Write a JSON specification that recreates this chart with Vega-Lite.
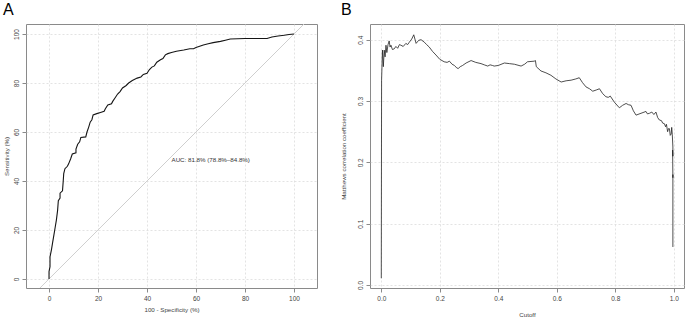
{
  "$schema": "https://vega.github.io/schema/vega-lite/v6.json",
  "background": "white",
  "padding": {"left": 2, "top": 1, "right": 2, "bottom": 0},
  "spacing": 53,
  "bounds": "flush",
  "config": {
    "view": {"stroke": "#8a8a8a", "strokeWidth": 1},
    "font": "Liberation Sans",
    "axis": {
      "domain": false,
      "grid": true,
      "gridColor": "#dcdcdc",
      "gridDash": [2, 2],
      "gridWidth": 0.8,
      "ticks": true,
      "tickSize": 4,
      "tickColor": "#8a8a8a",
      "labelFont": "Liberation Sans",
      "labelFontSize": 6.5,
      "labelColor": "#444",
      "titleFont": "Liberation Sans",
      "titleFontSize": 6.2,
      "titleFontWeight": "normal",
      "titleColor": "#444"
    },
    "axisLeft": {"labelAngle": -90, "labelAlign": "center", "labelBaseline": "bottom", "labelPadding": 3},
    "axisBottom": {"labelPadding": 3},
    "title": {"font": "Liberation Sans", "fontSize": 16, "fontWeight": "normal", "color": "#000", "anchor": "start", "frame": "group"}
  },
  "datasets": {
    "roc": [
      {"i":0,"fpr":0,"sens":0},{"i":1,"fpr":0,"sens":3},{"i":2,"fpr":0.4,"sens":5},{"i":3,"fpr":0.4,"sens":9},
      {"i":4,"fpr":1,"sens":12},{"i":5,"fpr":1.5,"sens":15},{"i":6,"fpr":2,"sens":18},{"i":7,"fpr":2.5,"sens":21},
      {"i":8,"fpr":3,"sens":24},{"i":9,"fpr":3.5,"sens":28},{"i":10,"fpr":3.8,"sens":32},{"i":11,"fpr":4.5,"sens":33},
      {"i":12,"fpr":4.5,"sens":35},{"i":13,"fpr":5.5,"sens":36},{"i":14,"fpr":5.8,"sens":40},{"i":15,"fpr":6,"sens":43},
      {"i":16,"fpr":6.5,"sens":45},{"i":17,"fpr":7.5,"sens":46},{"i":18,"fpr":8,"sens":47},{"i":19,"fpr":8.8,"sens":49},
      {"i":20,"fpr":9.5,"sens":51},{"i":21,"fpr":11,"sens":51.5},{"i":22,"fpr":11,"sens":53},{"i":23,"fpr":11.7,"sens":55},
      {"i":24,"fpr":12.5,"sens":56},{"i":25,"fpr":13,"sens":57.8},{"i":26,"fpr":15,"sens":58},{"i":27,"fpr":15.5,"sens":60},
      {"i":28,"fpr":16.2,"sens":62},{"i":29,"fpr":16.8,"sens":64},{"i":30,"fpr":17.5,"sens":65},{"i":31,"fpr":18,"sens":67},
      {"i":32,"fpr":19.5,"sens":67.5},{"i":33,"fpr":21,"sens":68},{"i":34,"fpr":22.5,"sens":68.5},{"i":35,"fpr":23,"sens":69.5},
      {"i":36,"fpr":24,"sens":71},{"i":37,"fpr":25.5,"sens":71.5},{"i":38,"fpr":26,"sens":72.5},{"i":39,"fpr":27,"sens":74},
      {"i":40,"fpr":28,"sens":75.5},{"i":41,"fpr":29,"sens":76.5},{"i":42,"fpr":30,"sens":78},{"i":43,"fpr":31.5,"sens":79},
      {"i":44,"fpr":32.5,"sens":80},{"i":45,"fpr":34,"sens":81},{"i":46,"fpr":35,"sens":81.5},{"i":47,"fpr":36,"sens":82},
      {"i":48,"fpr":37.5,"sens":82.5},{"i":49,"fpr":38.5,"sens":83.5},{"i":50,"fpr":40,"sens":84},{"i":51,"fpr":41,"sens":85.5},
      {"i":52,"fpr":42,"sens":86.5},{"i":53,"fpr":43,"sens":87},{"i":54,"fpr":44,"sens":88.5},{"i":55,"fpr":45.5,"sens":89.5},
      {"i":56,"fpr":46.5,"sens":90},{"i":57,"fpr":47.5,"sens":91.5},{"i":58,"fpr":48.5,"sens":92},{"i":59,"fpr":50,"sens":92.5},
      {"i":60,"fpr":52,"sens":93},{"i":61,"fpr":55,"sens":93.5},{"i":62,"fpr":57.5,"sens":94},{"i":63,"fpr":59,"sens":94},
      {"i":64,"fpr":60,"sens":94.5},{"i":65,"fpr":61.5,"sens":95},{"i":66,"fpr":63,"sens":95.5},{"i":67,"fpr":65,"sens":96},
      {"i":68,"fpr":67,"sens":96.5},{"i":69,"fpr":70,"sens":97},{"i":70,"fpr":72,"sens":97.5},{"i":71,"fpr":74,"sens":98},
      {"i":72,"fpr":80,"sens":98.2},{"i":73,"fpr":89,"sens":98.2},{"i":74,"fpr":91,"sens":98.8},{"i":75,"fpr":93.5,"sens":99.2},
      {"i":76,"fpr":96,"sens":99.5},{"i":77,"fpr":98,"sens":99.8},{"i":78,"fpr":100,"sens":100}
    ],
    "diag": [{"fpr": -10, "sens": -10}, {"fpr": 110, "sens": 110}],
    "auc": [{"fpr": 50, "sens": 48.7, "label": "AUC: 81.8% (78.8%–84.8%)"}],
    "mcc": [
      {"i":0,"cutoff":0,"mcc":0.011},{"i":1,"cutoff":0.001,"mcc":0.334},{"i":2,"cutoff":0.004,"mcc":0.383},{"i":3,"cutoff":0.007,"mcc":0.356},
      {"i":4,"cutoff":0.010,"mcc":0.383},{"i":5,"cutoff":0.013,"mcc":0.372},{"i":6,"cutoff":0.016,"mcc":0.391},{"i":7,"cutoff":0.019,"mcc":0.379},
      {"i":8,"cutoff":0.023,"mcc":0.392},{"i":9,"cutoff":0.027,"mcc":0.398},{"i":10,"cutoff":0.030,"mcc":0.388},{"i":11,"cutoff":0.033,"mcc":0.391},
      {"i":12,"cutoff":0.038,"mcc":0.384},{"i":13,"cutoff":0.044,"mcc":0.385},{"i":14,"cutoff":0.05,"mcc":0.389},{"i":15,"cutoff":0.056,"mcc":0.386},
      {"i":16,"cutoff":0.062,"mcc":0.392},{"i":17,"cutoff":0.067,"mcc":0.391},{"i":18,"cutoff":0.075,"mcc":0.389},{"i":19,"cutoff":0.084,"mcc":0.394},
      {"i":20,"cutoff":0.09,"mcc":0.392},{"i":21,"cutoff":0.096,"mcc":0.396},{"i":22,"cutoff":0.104,"mcc":0.401},{"i":23,"cutoff":0.111,"mcc":0.408},
      {"i":24,"cutoff":0.119,"mcc":0.394},{"i":25,"cutoff":0.128,"mcc":0.399},{"i":26,"cutoff":0.136,"mcc":0.400},{"i":27,"cutoff":0.147,"mcc":0.396},
      {"i":28,"cutoff":0.155,"mcc":0.392},{"i":29,"cutoff":0.164,"mcc":0.388},{"i":30,"cutoff":0.175,"mcc":0.381},{"i":31,"cutoff":0.187,"mcc":0.375},
      {"i":32,"cutoff":0.2,"mcc":0.368},{"i":33,"cutoff":0.215,"mcc":0.364},{"i":34,"cutoff":0.225,"mcc":0.363},{"i":35,"cutoff":0.233,"mcc":0.365},
      {"i":36,"cutoff":0.242,"mcc":0.360},{"i":37,"cutoff":0.25,"mcc":0.358},{"i":38,"cutoff":0.258,"mcc":0.354},{"i":39,"cutoff":0.263,"mcc":0.353},
      {"i":40,"cutoff":0.27,"mcc":0.356},{"i":41,"cutoff":0.278,"mcc":0.358},{"i":42,"cutoff":0.29,"mcc":0.362},{"i":43,"cutoff":0.307,"mcc":0.366},
      {"i":44,"cutoff":0.323,"mcc":0.363},{"i":45,"cutoff":0.341,"mcc":0.361},{"i":46,"cutoff":0.352,"mcc":0.359},{"i":47,"cutoff":0.364,"mcc":0.357},
      {"i":48,"cutoff":0.372,"mcc":0.359},{"i":49,"cutoff":0.38,"mcc":0.358},{"i":50,"cutoff":0.386,"mcc":0.357},{"i":51,"cutoff":0.40,"mcc":0.358},
      {"i":52,"cutoff":0.421,"mcc":0.362},{"i":53,"cutoff":0.438,"mcc":0.361},{"i":54,"cutoff":0.455,"mcc":0.360},{"i":55,"cutoff":0.478,"mcc":0.357},
      {"i":56,"cutoff":0.49,"mcc":0.360},{"i":57,"cutoff":0.5,"mcc":0.364},{"i":58,"cutoff":0.523,"mcc":0.365},{"i":59,"cutoff":0.527,"mcc":0.366},
      {"i":60,"cutoff":0.530,"mcc":0.356},{"i":61,"cutoff":0.546,"mcc":0.349},{"i":62,"cutoff":0.563,"mcc":0.346},{"i":63,"cutoff":0.580,"mcc":0.342},
      {"i":64,"cutoff":0.597,"mcc":0.336},{"i":65,"cutoff":0.615,"mcc":0.331},{"i":66,"cutoff":0.632,"mcc":0.333},{"i":67,"cutoff":0.649,"mcc":0.334},
      {"i":68,"cutoff":0.665,"mcc":0.336},{"i":69,"cutoff":0.677,"mcc":0.338},{"i":70,"cutoff":0.688,"mcc":0.330},{"i":71,"cutoff":0.700,"mcc":0.323},
      {"i":72,"cutoff":0.712,"mcc":0.320},{"i":73,"cutoff":0.723,"mcc":0.316},{"i":74,"cutoff":0.735,"mcc":0.318},{"i":75,"cutoff":0.746,"mcc":0.320},
      {"i":76,"cutoff":0.757,"mcc":0.312},{"i":77,"cutoff":0.768,"mcc":0.307},{"i":78,"cutoff":0.776,"mcc":0.306},{"i":79,"cutoff":0.783,"mcc":0.308},
      {"i":80,"cutoff":0.797,"mcc":0.298},{"i":81,"cutoff":0.814,"mcc":0.289},{"i":82,"cutoff":0.825,"mcc":0.293},{"i":83,"cutoff":0.837,"mcc":0.296},
      {"i":84,"cutoff":0.845,"mcc":0.294},{"i":85,"cutoff":0.854,"mcc":0.293},{"i":86,"cutoff":0.862,"mcc":0.284},{"i":87,"cutoff":0.871,"mcc":0.277},
      {"i":88,"cutoff":0.888,"mcc":0.280},{"i":89,"cutoff":0.905,"mcc":0.283},{"i":90,"cutoff":0.910,"mcc":0.279},{"i":91,"cutoff":0.917,"mcc":0.280},
      {"i":92,"cutoff":0.925,"mcc":0.282},{"i":93,"cutoff":0.932,"mcc":0.278},{"i":94,"cutoff":0.939,"mcc":0.282},{"i":95,"cutoff":0.945,"mcc":0.273},
      {"i":96,"cutoff":0.951,"mcc":0.269},{"i":97,"cutoff":0.958,"mcc":0.268},{"i":98,"cutoff":0.962,"mcc":0.264},{"i":99,"cutoff":0.968,"mcc":0.263},
      {"i":100,"cutoff":0.972,"mcc":0.258},{"i":101,"cutoff":0.975,"mcc":0.262},{"i":102,"cutoff":0.979,"mcc":0.250},{"i":103,"cutoff":0.982,"mcc":0.255},
      {"i":104,"cutoff":0.985,"mcc":0.255},{"i":105,"cutoff":0.988,"mcc":0.244},{"i":106,"cutoff":0.991,"mcc":0.246},{"i":107,"cutoff":0.993,"mcc":0.257},
      {"i":108,"cutoff":0.995,"mcc":0.245},{"i":109,"cutoff":0.997,"mcc":0.225},{"i":110,"cutoff":0.997,"mcc":0.210},{"i":111,"cutoff":0.996,"mcc":0.220},
      {"i":112,"cutoff":0.997,"mcc":0.175},{"i":113,"cutoff":0.997,"mcc":0.180},{"i":114,"cutoff":0.997,"mcc":0.062}
    ]
  },
  "hconcat": [
    {
      "width": 291,
      "height": 264,
      "title": {"text": "A", "dx": -23, "offset": 6},
      "layer": [
        {
          "data": {"name": "diag"},
          "mark": {"type": "line", "color": "#cfcfcf", "strokeWidth": 1, "clip": true},
          "encoding": {
            "x": {"field": "fpr", "type": "quantitative", "scale": {"domain": [-9.4, 109.4], "nice": false, "zero": false},
              "axis": {"values": [0, 20, 40, 60, 80, 100], "title": "100 - Specificity (%)", "titlePadding": 5}},
            "y": {"field": "sens", "type": "quantitative", "scale": {"domain": [-3.7, 104.1], "nice": false, "zero": false},
              "axis": {"values": [0, 20, 40, 60, 80, 100], "title": "Sensitivity (%)", "titlePadding": 4}}
          }
        },
        {
          "data": {"name": "roc"},
          "mark": {"type": "line", "color": "#151515", "strokeWidth": 1.1},
          "encoding": {
            "x": {"field": "fpr", "type": "quantitative"},
            "y": {"field": "sens", "type": "quantitative"},
            "order": {"field": "i", "type": "quantitative"}
          }
        },
        {
          "data": {"name": "auc"},
          "mark": {"type": "text", "align": "left", "baseline": "middle", "fontSize": 6.2, "color": "#333", "font": "Liberation Sans"},
          "encoding": {
            "x": {"field": "fpr", "type": "quantitative"},
            "y": {"field": "sens", "type": "quantitative"},
            "text": {"field": "label"}
          }
        }
      ]
    },
    {
      "width": 314,
      "height": 264,
      "title": {"text": "B", "dx": -29, "offset": 6},
      "data": {"name": "mcc"},
      "mark": {"type": "line", "color": "#222", "strokeWidth": 0.8},
      "encoding": {
        "x": {"field": "cutoff", "type": "quantitative", "scale": {"domain": [-0.0386, 1.035], "nice": false, "zero": false},
          "axis": {"values": [0, 0.2, 0.4, 0.6, 0.8, 1.0], "format": ".1f", "title": "Cutoff", "titlePadding": 9.5}},
        "y": {"field": "mcc", "type": "quantitative", "scale": {"domain": [-0.0049, 0.4256], "nice": false, "zero": false},
          "axis": {"values": [0, 0.1, 0.2, 0.3, 0.4], "format": ".1f", "title": "Matthews correlation coefficient", "titlePadding": 11}},
        "order": {"field": "i", "type": "quantitative"}
      }
    }
  ]
}
